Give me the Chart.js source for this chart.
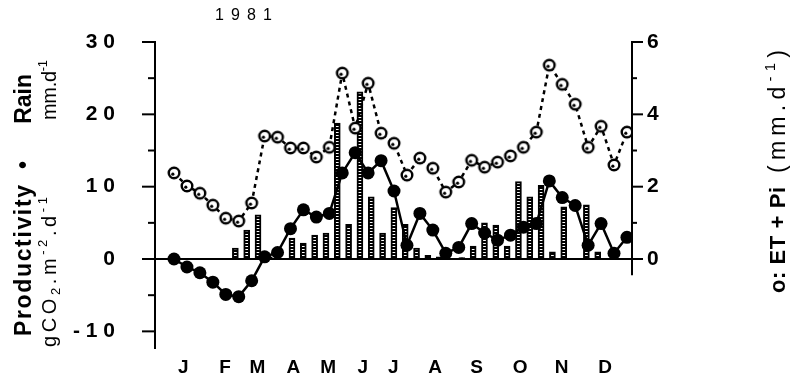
<!DOCTYPE html>
<html>
<head>
<meta charset="utf-8">
<script src="https://cdn.jsdelivr.net/npm/chart.js@4.4.0/dist/chart.umd.min.js"></script>
<style>
  html, body { margin: 0; padding: 0; background: #fff; }
</style>
</head>
<body>
<canvas id="chart" width="790" height="379"></canvas>
<script>
// --- Data: 10-day periods of 1981 (3 per month) ---
const months = ['J', 'F', 'M', 'A', 'M', 'J', 'J', 'A', 'S', 'O', 'N', 'D'];
const productivity = [0, -1.1, -1.9, -3.2, -4.9, -5.2, -3.0, 0.3, 0.9, 4.2, 6.8, 5.8,
                      6.3, 11.9, 14.7, 11.9, 13.6, 9.4, 1.9, 6.3, 4.0, 0.8, 1.6, 4.9,
                      3.6, 2.6, 3.3, 4.4, 4.9, 10.8, 8.5, 7.4, 1.9, 4.9, 0.8, 3.0];
const etPi = [2.38, 2.02, 1.82, 1.49, 1.13, 1.05, 1.55, 3.40, 3.37, 3.07, 3.07, 2.82,
              3.09, 5.14, 3.62, 4.86, 3.48, 3.20, 2.32, 2.79, 2.51, 1.85, 2.13, 2.73,
              2.54, 2.68, 2.85, 3.09, 3.51, 5.36, 4.83, 4.28, 3.09, 3.67, 2.60, 3.51];
const rain = [0, 0, 0, 1.5, 4.0, 6.1, 0.3, 0, 2.9, 2.2, 3.3, 3.6,
              18.8, 4.8, 23.1, 8.6, 3.6, 7.1, 4.8, 1.5, 0.5, 0.3, 0, 0.2,
              1.8, 5.0, 4.7, 1.8, 10.7, 8.6, 10.2, 1.0, 7.2, 0, 7.5, 1.0];
const leftTicks = [-10, -5, 0, 5, 10, 15, 20, 25, 30];
const rightTicks = [0, 1, 2, 3, 4, 5, 6];

// --- Layout ---
const monthTickPos = [0.72, 3.94, 6.44, 9.22, 11.92, 14.58, 16.95, 20.17, 23.39, 26.74, 29.96, 33.31];
const X_MIN = -1.47, X_MAX = 35.39;
const BAR_SHIFT = 0.27;          // rain bars sit a little left of the points
const Y_MIN = -12.3, Y_MAX = 30;
const Y2_MIN = Y_MIN / 5, Y2_MAX = 6;
const RIGHT_AXIS_END = -0.45;    // right axis line stops just under 0
const FONT = "'Liberation Sans', Arial, sans-serif";

const canvas = document.getElementById('chart');
const ctx = canvas.getContext('2d');

// dotted fill for the rain bars
const patCanvas = document.createElement('canvas');
patCanvas.width = 1; patCanvas.height = 3;
const pg = patCanvas.getContext('2d');
pg.fillStyle = '#000'; pg.fillRect(0, 0, 1, 3);
pg.fillStyle = '#fff'; pg.fillRect(0, 0, 1, 1);
const barPattern = ctx.createPattern(patCanvas, 'repeat');

// open circle marker with a small inner mark
function ringMarker() {
    const c = document.createElement('canvas');
    c.width = 16; c.height = 16;
    const g = c.getContext('2d');
    g.beginPath(); g.arc(8, 8, 5.3, 0, Math.PI * 2);
    g.fillStyle = '#fff'; g.fill();
    g.lineWidth = 2.4; g.strokeStyle = '#000'; g.stroke();
    g.beginPath(); g.arc(6.8, 9.2, 1.6, 0, Math.PI * 2);
    g.fillStyle = '#000'; g.fill();
    return c;
}

const spaced = v => String(v).split('').join(' ');

// draws text char by char, spreading it over a given length
function drawSpaced(c, segs, length) {
    const chars = [];
    segs.forEach(s => {
        c.font = s.font;
        for (const ch of s.t) chars.push({ ch, font: s.font, dy: s.dy || 0, w: c.measureText(ch).width });
    });
    const natural = chars.reduce((a, ch) => a + ch.w, 0);
    const gap = chars.length > 1 && length ? (length - natural) / (chars.length - 1) : 0;
    let x = 0;
    chars.forEach(ch => {
        c.font = ch.font;
        c.fillText(ch.ch, x, ch.dy);
        x += ch.w + gap;
    });
}

function rotated(c, baseX, yStart, fn) {
    c.save();
    c.translate(baseX, yStart);
    c.rotate(-Math.PI / 2);
    fn();
    c.restore();
}

const noPad = s => { s.paddingTop = 0; s.paddingBottom = 0; s.paddingLeft = 0; s.paddingRight = 0; };

const decor = {
    id: 'decor',
    afterDraw(chart) {
        const { ctx: c, chartArea: ca, scales } = chart;
        c.save();
        c.strokeStyle = '#000';
        c.fillStyle = '#000';
        c.lineWidth = 2;
        const line = (x1, y1, x2, y2) => { c.beginPath(); c.moveTo(x1, y1); c.lineTo(x2, y2); c.stroke(); };

        leftTicks.forEach(v => {
            const y = scales.y.getPixelForValue(v);
            const major = v % 10 === 0;
            line(ca.left - (major ? 13 : 7), y, ca.left + 1, y);
        });

        const yTop = scales.y2.getPixelForValue(Y2_MAX);
        const yBot = scales.y2.getPixelForValue(RIGHT_AXIS_END);
        line(ca.right, yTop - 1, ca.right, yBot);
        rightTicks.forEach(v => {
            const y = scales.y2.getPixelForValue(v);
            const major = v % 2 === 0;
            line(ca.right - 1, y, ca.right + (major ? 11 : 5), y);
        });

        // titles
        c.textAlign = 'left';
        c.textBaseline = 'alphabetic';
        const bold = s => 'bold ' + s + 'px ' + FONT;
        const reg = s => s + 'px ' + FONT;

        c.save();
        c.translate(215, 20);
        drawSpaced(c, [{ t: '1981', font: reg(16) }], 57);
        c.restore();

        rotated(c, 31, 336, () => drawSpaced(c, [{ t: 'Productivity', font: bold(23) }], 151));
        c.font = bold(23);
        const bw = c.measureText('•').width;
        rotated(c, 31, 165 + bw / 2, () => drawSpaced(c, [{ t: '•', font: bold(23) }]));
        c.font = bold(23);
        const rw = c.measureText('Rain').width;
        rotated(c, 31, 74 + rw, () => drawSpaced(c, [{ t: 'Rain', font: bold(23) }]));

        rotated(c, 56, 347, () => drawSpaced(c, [
            { t: 'gCO', font: reg(20) },
            { t: '2', font: reg(13), dy: 4 },
            { t: '.m', font: reg(20) },
            { t: '-2', font: reg(13), dy: -9 },
            { t: '.d', font: reg(20) },
            { t: '-1', font: reg(13), dy: -9 }
        ], 150));
        rotated(c, 56, 120, () => drawSpaced(c, [
            { t: 'mm.d', font: reg(20) },
            { t: '-1', font: reg(13), dy: -9 }
        ], 60));

        rotated(c, 785, 293, () => drawSpaced(c, [{ t: 'o: ET + Pi', font: bold(22) }], 106));
        rotated(c, 785, 173, () => drawSpaced(c, [
            { t: '(mm.d', font: reg(23) },
            { t: '-1', font: reg(15), dy: -10 },
            { t: ')', font: reg(23) }
        ], 123));

        c.restore();
    }
};

const tickFont = { family: FONT, size: 21, weight: 'bold' };

new Chart(ctx, {
    type: 'line',
    data: {
        datasets: [
            {
                type: 'line',
                label: 'Productivity',
                data: productivity.map((v, i) => ({ x: i, y: v })),
                xAxisID: 'x', yAxisID: 'y',
                borderColor: '#000', borderWidth: 2.5,
                pointRadius: 6.5, pointHoverRadius: 6.5,
                pointBackgroundColor: '#000', pointBorderWidth: 0,
                tension: 0, order: 1
            },
            {
                type: 'line',
                label: 'ET + Pi',
                data: etPi.map((v, i) => ({ x: i, y: v })),
                xAxisID: 'x', yAxisID: 'y2',
                borderColor: '#000', borderWidth: 2.5, borderDash: [4, 4],
                pointStyle: ringMarker(),
                tension: 0, order: 2
            },
            {
                type: 'bar',
                label: 'Rain',
                data: rain.map((v, i) => ({ x: i, y: v })),
                xAxisID: 'xb', yAxisID: 'y',
                backgroundColor: barPattern, borderColor: '#000', borderWidth: 2,
                barThickness: 6, order: 3
            }
        ]
    },
    options: {
        responsive: false,
        animation: false,
        layout: { padding: { top: 42, left: 0, right: 0, bottom: 0 } },
        plugins: { legend: { display: false }, tooltip: { enabled: false } },
        scales: {
            x: {
                type: 'linear', min: X_MIN, max: X_MAX,
                grid: { display: false, drawTicks: false },
                border: { display: false },
                afterBuildTicks: s => { s.ticks = monthTickPos.map(v => ({ value: v })); },
                afterFit: s => { s.height = 31; noPad(s); },
                ticks: {
                    autoSkip: false, maxRotation: 0, padding: 8, color: '#000',
                    font: { family: FONT, size: 19, weight: 'bold' },
                    callback: (v, i) => months[i]
                }
            },
            xb: { type: 'linear', display: false, min: X_MIN + BAR_SHIFT, max: X_MAX + BAR_SHIFT },
            y: {
                position: 'left', min: Y_MIN, max: Y_MAX,
                afterBuildTicks: s => { s.ticks = leftTicks.map(v => ({ value: v })); },
                afterFit: s => { s.width = 155; noPad(s); },
                grid: {
                    drawTicks: false, lineWidth: 2,
                    color: c => (c.tick && c.tick.value === 0 ? '#000' : 'rgba(0,0,0,0)')
                },
                border: { display: true, color: '#000', width: 2 },
                ticks: {
                    autoSkip: false, padding: 40, color: '#000', font: tickFont,
                    callback: v => (v % 10 === 0 ? spaced(v) : '')
                }
            },
            y2: {
                position: 'right', min: Y2_MIN, max: Y2_MAX,
                afterBuildTicks: s => { s.ticks = rightTicks.map(v => ({ value: v })); },
                afterFit: s => { s.width = 158; noPad(s); },
                grid: { display: false, drawTicks: false },
                border: { display: false },
                ticks: {
                    autoSkip: false, padding: 15, color: '#000', font: tickFont,
                    callback: v => (v % 2 === 0 ? String(v) : '')
                }
            }
        }
    },
    plugins: [decor]
});
</script>
</body>
</html>
